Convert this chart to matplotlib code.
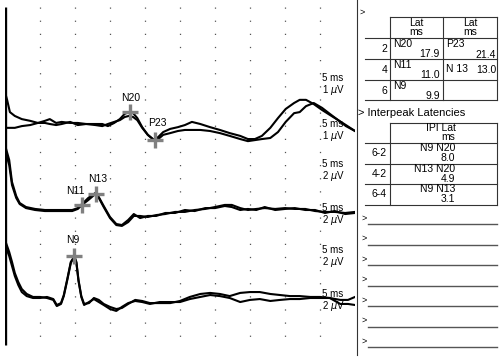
import numpy as np
import matplotlib
matplotlib.use("Agg")
import matplotlib.pyplot as plt

plt.rcParams['font.family'] = ['Liberation Sans', 'DejaVu Sans']

# peak latencies (ms)
lat_N9 = 9.9
lat_N11 = 11.0
lat_N13 = 13.0
lat_N20 = 17.9
lat_P23 = 21.4

# channels 1-2 (cortical), uV
t_top = [0, 0.3, 0.7, 1.4, 2.4, 3.6, 4.7, 5.7, 6.4, 7.3, 8.1, 9.3, 10.4, 11.6, 12.9, 13.9, 14.7, 15.6, 16.4, 17.1,
         17.7, 18.3, 18.9, 19.6, 20.4, 21.3, 21.9, 22.6, 23.6, 24.7, 25.7, 26.7, 27.9, 29.3, 30.7, 32.1, 33.6, 34.7,
         35.7, 36.7, 37.9, 39.0, 40.1, 41.3, 42.1, 43.0, 44.1, 45.3, 46.4, 47.6, 48.7, 50.0]
ch1 = [0.91, 0.69, 0.34, 0.23, 0.14, 0.09, 0.03, 0.09, 0.14, 0.03, 0.06, 0.03, 0.03, 0, 0, 0, -0.06, 0.03, 0.14, 0.29,
       0.34, 0.31, 0.17, -0.09, -0.31, -0.46, -0.37, -0.23, -0.14, -0.09, -0.03, 0.06, 0, -0.09, -0.17, -0.26, -0.34,
       -0.43, -0.43, -0.34, -0.11, 0.17, 0.43, 0.6, 0.69, 0.69, 0.57, 0.4, 0.26, 0.11, -0.06, -0.2]
ch2 = [-0.11, -0.11, -0.11, -0.11, -0.06, -0.03, 0.03, 0.03, 0, -0.03, 0, 0.06, -0.03, 0, -0.03, -0.06, 0, 0.06, 0.11,
       0.2, 0.23, 0.2, 0.11, -0.11, -0.31, -0.46, -0.43, -0.31, -0.26, -0.2, -0.17, -0.17, -0.17, -0.2, -0.26, -0.34,
       -0.43, -0.49, -0.46, -0.43, -0.4, -0.23, 0.06, 0.31, 0.34, 0.51, 0.6, 0.46, 0.29, 0.11, -0.03, -0.2]

# channels 3-4 (cervical)
t_mid = [0, 0.6, 1.0, 1.6, 2.1, 3.0, 4.3, 5.7, 7.1, 8.6, 9.6, 10.4, 11.0, 11.9, 12.9, 13.4, 14.1, 15.0, 15.9, 16.7,
         17.6, 18.4, 19.3, 20.4, 21.6, 22.9, 24.3, 25.7, 27.1, 28.6, 30.0, 31.4, 32.4, 33.6, 34.7, 35.9, 37.1, 38.6,
         40.0, 41.4, 42.9, 44.3, 45.7, 47.1, 48.6, 50.0]
ch3 = [3.43, 2.57, 1.43, 0.69, 0.34, 0.11, 0, -0.06, -0.06, -0.06, -0.06, 0.06, 0.29, 0.57, 0.91, 0.69, 0.17, -0.46,
       -0.86, -0.91, -0.69, -0.34, -0.34, -0.4, -0.29, -0.23, -0.11, -0.11, 0, 0.06, 0.17, 0.29, 0.29, 0.11, 0, 0.06,
       0.11, 0.06, 0.11, 0.06, 0.06, -0.06, -0.11, -0.11, -0.17, -0.11]
ch4 = [3.71, 2.86, 1.6, 0.8, 0.4, 0.17, 0.06, 0, 0, 0, 0, 0.11, 0.34, 0.69, 0.97, 0.74, 0.23, -0.4, -0.8, -0.86,
       -0.57, -0.23, -0.46, -0.34, -0.34, -0.17, -0.17, 0, -0.06, 0.11, 0.11, 0.23, 0.17, 0, 0.06, 0, 0.17, 0, 0.06,
       0.11, 0, 0, -0.17, -0.06, -0.23, -0.17]

# channels 5-6 (Erb's point)
t_bot = [0, 0.6, 1.0, 1.4, 1.9, 2.4, 3.1, 4.0, 5.0, 6.0, 6.9, 7.4, 8.0, 8.4, 8.9, 9.4, 9.9, 10.2, 10.5, 10.9, 11.3,
         12.0, 12.7, 13.4, 14.1, 15.0, 15.9, 16.7, 17.6, 18.6, 19.6, 20.7, 22.1, 23.6, 25.0, 26.4, 27.9, 29.3, 30.7,
         32.1, 33.6, 35.0, 36.4, 37.9, 39.3, 40.7, 42.1, 43.6, 45.0, 46.4, 47.9, 49.0, 50.0]
ch5 = [3.31, 2.63, 2.06, 1.43, 0.91, 0.51, 0.23, 0.06, 0.06, 0, -0.11, -0.46, -0.34, 0.11, 1.03, 2.0, 2.4, 2.06, 1.03,
       0.11, -0.34, -0.29, 0, -0.11, -0.34, -0.51, -0.63, -0.57, -0.34, -0.11, -0.17, -0.29, -0.29, -0.29, -0.17, 0.06,
       0.23, 0.29, 0.23, 0.11, 0.29, 0.34, 0.34, 0.23, 0.17, 0.11, 0.11, 0.06, 0.06, 0, -0.11, -0.11, 0.06]
ch6 = [3.03, 2.4, 1.83, 1.26, 0.74, 0.34, 0.11, 0, 0, 0.06, -0.06, -0.4, -0.29, 0.17, 1.09, 2.06, 2.34, 2.0, 0.97,
       0.06, -0.4, -0.23, -0.06, -0.23, -0.4, -0.63, -0.74, -0.51, -0.29, -0.17, -0.23, -0.34, -0.23, -0.23, -0.23,
       -0.06, 0.06, 0.17, 0.11, 0, -0.23, -0.11, -0.06, -0.17, -0.11, -0.06, -0.06, 0, 0, 0, -0.34, -0.34, -0.4]

sens_labels = [("5 ms", r"1 $\mu$V"), ("5 ms", r"1 $\mu$V"), ("5 ms", r"2 $\mu$V"),
               ("5 ms", r"2 $\mu$V"), ("5 ms", r"2 $\mu$V"), ("5 ms", r"2 $\mu$V")]

# latency table
lat_rows = ["2", "4", "6"]
lat_name_a = ["N20", "N11", "N9"]
lat_val_a = ["17.9", "11.0", "9.9"]
lat_name_b = ["P23", "N 13", ""]
lat_val_b = ["21.4", "13.0", ""]

# interpeak table
ipi_rows = ["6-2", "4-2", "6-4"]
ipi_pairs = ["N9 N20", "N13 N20", "N9 N13"]
ipi_vals = ["8.0", "4.9", "3.1"]

fig = plt.figure(figsize=(5, 3.59), dpi=100)

# waveform area, vertical units = pixels from top
ax = fig.add_axes([5 / 500, 0, 350 / 500, 1])
ax.set_xlim(0, 50)
ax.set_ylim(359, 0)
ax.axis('off')

for g in range(5, 50, 5):
    ax.plot([g, g], [7, 345], color='#555555', lw=0.9, linestyle=(0, (1, 9.5)))
ax.plot([0, 0], [7, 345], color='black', lw=2.4, solid_capstyle='butt')

base_top, base_mid, base_bot = 124, 210, 298
gain_top, gain_low = 35.0, 17.5

def ypos(vals, base, gain):
    return base - np.array(vals) * gain

for vals in [ch1, ch2]:
    ax.plot(t_top, ypos(vals, base_top, gain_top), color='black', lw=1.5)
for vals in [ch3, ch4]:
    ax.plot(t_mid, ypos(vals, base_mid, gain_low), color='black', lw=1.5)
for vals in [ch5, ch6]:
    ax.plot(t_bot, ypos(vals, base_bot, gain_low), color='black', lw=1.5)

marks = [
    ("N20", lat_N20, np.interp(lat_N20, t_top, ch1), base_top, gain_top, 0, -9, 'center'),
    ("P23", lat_P23, np.interp(lat_P23, t_top, ch2), base_top, gain_top, -1.0, -12, 'left'),
    ("N11", lat_N11, np.interp(lat_N11, t_mid, ch3), base_mid, gain_low, 0.4, -9, 'right'),
    ("N13", lat_N13, np.interp(lat_N13, t_mid, ch4), base_mid, gain_low, 0.2, -10, 'center'),
    ("N9", lat_N9, np.interp(lat_N9, t_bot, ch5), base_bot, gain_low, -0.2, -11, 'center'),
]
for name, t, v, base, gain, dx, dy, ha in marks:
    y = base - v * gain
    ax.plot(t, y, marker='+', color='#808080', ms=11, mew=2.4)
    ax.text(t + dx, y + dy, name, fontsize=7.5, ha=ha, va='bottom')

label_y = [78, 124, 164, 208, 250, 294]
for (ms_txt, uv_txt), y in zip(sens_labels, label_y):
    ax.text(45.3, y, ms_txt, fontsize=7, va='center', ha='left')
    ax.text(45.3, y + 12, uv_txt, fontsize=7, va='center', ha='left')

# right side panel in pixel coordinates
ov = fig.add_axes([0, 0, 1, 1])
ov.set_xlim(0, 500)
ov.set_ylim(359, 0)
ov.axis('off')
line_kw = dict(color='#333333', lw=0.8)

ov.plot([357, 357], [0, 355], **line_kw)
ov.text(360, 12, ">", fontsize=6.5, va='center')

# latency table
ov.plot([390, 497], [17, 17], **line_kw)
for y in [38, 59, 80, 100]:
    ov.plot([365, 497], [y, y], **line_kw)
for x in [390, 443, 497]:
    ov.plot([x, x], [17, 100], **line_kw)
for cx in [416, 470]:
    ov.text(cx, 23, "Lat", fontsize=7.5, ha='center', va='center')
    ov.text(cx, 32, "ms", fontsize=7.5, ha='center', va='center')
for i, r in enumerate(lat_rows):
    top = 38 + i * 21
    ov.text(387, top + 11, r, fontsize=7.5, ha='right', va='center')
    ov.text(393, top + 6, lat_name_a[i], fontsize=7.5, ha='left', va='center')
    ov.text(440, top + 16, lat_val_a[i], fontsize=7.5, ha='right', va='center')
    if i == 1:
        ov.text(446, top + 10, lat_name_b[i], fontsize=7.5, ha='left', va='center')
        ov.text(496, top + 11, lat_val_b[i], fontsize=7.5, ha='right', va='center')
    else:
        ov.text(446, top + 6, lat_name_b[i], fontsize=7.5, ha='left', va='center')
        ov.text(496, top + 17, lat_val_b[i], fontsize=7.5, ha='right', va='center')

ov.text(358, 113, "> Interpeak Latencies", fontsize=8, ha='left', va='center')

# interpeak table
ov.plot([390, 497], [123, 123], **line_kw)
for y in [143, 164, 184, 205]:
    ov.plot([365, 497], [y, y], **line_kw)
for x in [390, 497]:
    ov.plot([x, x], [123, 205], **line_kw)
ov.text(441, 128, "IPI Lat", fontsize=7.5, ha='center', va='center')
ov.text(455, 137, "ms", fontsize=7.5, ha='right', va='center')
for i, r in enumerate(ipi_rows):
    top = 143 + i * 20.7
    ov.text(379, top + 10, r, fontsize=7.5, ha='center', va='center')
    ov.text(455, top + 5, ipi_pairs[i], fontsize=7.5, ha='right', va='center')
    ov.text(455, top + 15, ipi_vals[i], fontsize=7.5, ha='right', va='center')

# empty prompt lines
for k in range(7):
    y = 224 + k * 20.5
    ov.text(361, y - 6, ">", fontsize=6.5, va='center')
    ov.plot([368, 497], [y, y], color='#555555', lw=1.0)

plt.savefig("out.png", dpi=100)
